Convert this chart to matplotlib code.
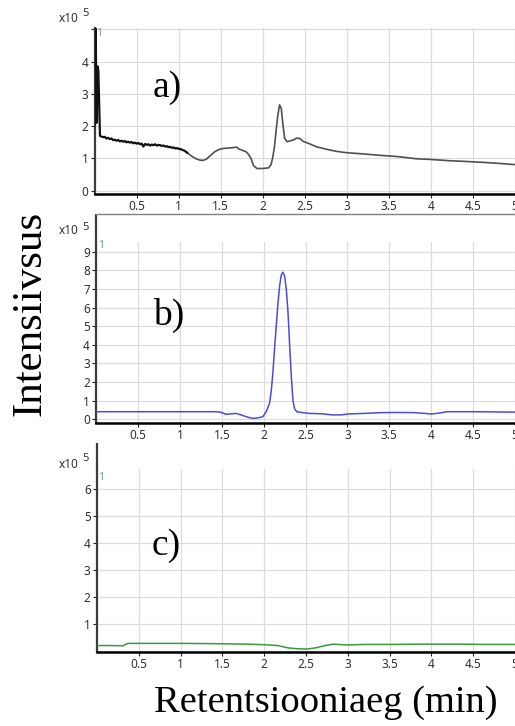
import matplotlib
matplotlib.use("Agg")
import matplotlib.pyplot as plt
import numpy as np

W, H = 515, 726

# ---------------- data (intensity in units of 1e5) ----------------
# panel a: early noisy section
a_early_x = [0.0, 0.012, 0.022, 0.030, 0.037, 0.045, 0.055, 0.064, 0.08, 0.10, 0.12, 0.14, 0.16,
             0.18, 0.20, 0.22, 0.24, 0.26, 0.28, 0.30, 0.32, 0.34, 0.36, 0.38, 0.40, 0.42,
             0.44, 0.46, 0.48, 0.50, 0.52, 0.54, 0.56, 0.58, 0.60, 0.62, 0.64, 0.66, 0.68,
             0.70, 0.72, 0.74, 0.76, 0.78, 0.80, 0.82, 0.84, 0.86, 0.88, 0.90, 0.92, 0.94,
             0.96, 0.98, 1.00, 1.02, 1.04, 1.06, 1.08, 1.10]
a_early_y = [2.0, 5.6, 2.1, 3.2, 3.85, 3.7, 2.6, 1.70, 1.68, 1.66, 1.67, 1.62, 1.64,
             1.60, 1.62, 1.57, 1.58, 1.55, 1.57, 1.53, 1.55, 1.52, 1.54, 1.50, 1.52, 1.49,
             1.51, 1.47, 1.49, 1.46, 1.48, 1.44, 1.46, 1.37, 1.45, 1.42, 1.44, 1.40, 1.43,
             1.41, 1.44, 1.40, 1.42, 1.41, 1.39, 1.40, 1.37, 1.38, 1.35, 1.36, 1.33, 1.34,
             1.31, 1.32, 1.30, 1.29, 1.27, 1.25, 1.22, 1.18]
# panel a: rest of the trace
a_x = [1.10, 1.15, 1.20, 1.25, 1.29, 1.33, 1.38, 1.43, 1.48, 1.53, 1.58, 1.62, 1.66, 1.69,
       1.72, 1.76, 1.80, 1.83, 1.86, 1.89, 1.93, 2.00, 2.07, 2.10, 2.12, 2.14, 2.16, 2.18,
       2.20, 2.22, 2.24, 2.26, 2.29, 2.33, 2.37, 2.40, 2.44, 2.48, 2.56, 2.64, 2.72, 2.80,
       2.88, 2.96, 3.04, 3.20, 3.43, 3.60, 3.83, 4.00, 4.22, 4.40, 4.62, 4.80, 5.00]
a_y = [1.18, 1.08, 1.00, 0.95, 0.94, 0.98, 1.10, 1.21, 1.28, 1.31, 1.32, 1.33, 1.34, 1.35,
       1.29, 1.25, 1.21, 1.13, 1.00, 0.78, 0.69, 0.69, 0.71, 0.82, 1.05, 1.38, 1.90, 2.35,
       2.66, 2.55, 2.05, 1.62, 1.52, 1.55, 1.58, 1.63, 1.62, 1.53, 1.45, 1.36, 1.31, 1.26,
       1.22, 1.19, 1.17, 1.14, 1.09, 1.06, 0.99, 0.97, 0.93, 0.91, 0.88, 0.85, 0.81]

# panel b
b_x = [0.0, 0.5, 1.0, 1.43, 1.49, 1.55, 1.62, 1.67, 1.73, 1.78, 1.83, 1.87, 1.93, 1.99,
       2.03, 2.07, 2.09, 2.11, 2.13, 2.15, 2.17, 2.19, 2.21, 2.23, 2.25, 2.27, 2.29,
       2.31, 2.33, 2.35, 2.37, 2.40, 2.54, 2.70, 2.81, 2.93, 3.01, 3.20,
       3.41, 3.60, 3.80, 3.92, 4.00, 4.07, 4.19, 4.50, 4.94, 5.0]
b_y = [0.41, 0.41, 0.41, 0.41, 0.38, 0.27, 0.30, 0.32, 0.24, 0.16, 0.09, 0.05, 0.08, 0.14,
       0.41, 0.86, 1.50, 2.50, 3.80, 5.00, 6.20, 7.15, 7.75, 7.90, 7.70, 7.00, 5.80,
       4.00, 2.30, 1.00, 0.55, 0.40, 0.32, 0.30, 0.24, 0.24, 0.29, 0.32,
       0.36, 0.37, 0.36, 0.32, 0.29, 0.32, 0.41, 0.41, 0.39, 0.39]

# panel c
c_x = [0.0, 0.15, 0.31, 0.37, 0.62, 1.01, 1.40, 1.80, 2.00, 2.16, 2.23, 2.29, 2.40, 2.51,
       2.61, 2.73, 2.83, 3.00, 3.20, 3.50, 3.80, 4.10, 4.38, 4.65, 4.93, 5.0]
c_y = [0.20, 0.20, 0.19, 0.28, 0.28, 0.28, 0.27, 0.25, 0.23, 0.20, 0.15, 0.11, 0.08, 0.07,
       0.11, 0.20, 0.25, 0.22, 0.24, 0.24, 0.25, 0.25, 0.25, 0.24, 0.24, 0.24]

a_yticks = [0, 1, 2, 3, 4, 5]
a_yticklabels = ["0", "1", "2", "3", "4", ""]
b_yticks = [0, 1, 2, 3, 4, 5, 6, 7, 8, 9]
b_yticklabels = [str(v) for v in b_yticks]
c_yticks = [1, 2, 3, 4, 5, 6]
c_yticklabels = [str(v) for v in c_yticks]
xticks = [0.5, 1, 1.5, 2, 2.5, 3, 3.5, 4, 4.5, 5]
xticklabels = ["0.5", "1", "1.5", "2", "2.5", "3", "3.5", "4", "4.5", "5"]

panel_labels = ["a)", "b)", "c)"]
ylabel_text = "Intensiivsus"
xlabel_text = "Retentsiooniaeg (min)"

# ---------------- figure ----------------
fig = plt.figure(figsize=(W / 100, H / 100), dpi=100)
fig.patch.set_facecolor("white")

def fx(px):
    return px / W

def fy(py):
    return 1 - py / H

tick_font = "Noto Sans"
tick_color = "#303030"
grid_color = "#dcdcdc"

# (left px, bottom px, top px, ylim, xmax)
specs = [
    (94.6, 194.0, 28.0, (-0.1, 5.04), 4.993),
    (96.1, 422.7, 241.7, (-0.18, 9.54), 4.969),
    (97.0, 652.0, 469.3, (-0.04, 6.73), 4.958),
]

axes = []
for (lp, bp, tp, ylim, xmax) in specs:
    ax = fig.add_axes([fx(lp), fy(bp), 1 - fx(lp), (bp - tp) / H])
    ax.set_xlim(0, xmax)
    ax.set_ylim(*ylim)
    for s in ["top", "right"]:
        ax.spines[s].set_visible(False)
    ax.spines["left"].set_color("#3c3c3c")
    ax.spines["left"].set_linewidth(1.6)
    ax.spines["bottom"].set_color("#000000")
    ax.spines["bottom"].set_linewidth(1.8)
    ax.set_xticks(xticks)
    ax.set_xticklabels(xticklabels)
    ax.tick_params(axis="both", direction="out", length=3, width=0.8, color="#202020",
                   labelsize=8.5, labelcolor=tick_color, pad=1.5)
    for lab in ax.get_xticklabels() + ax.get_yticklabels():
        lab.set_fontfamily(tick_font)
    ax.grid(True, color=grid_color, linewidth=0.9)
    ax.set_axisbelow(True)
    axes.append(ax)

ax_a, ax_b, ax_c = axes

ax_a.set_yticks(a_yticks)
ax_a.set_yticklabels(a_yticklabels, fontfamily=tick_font)
ax_b.set_yticks(b_yticks)
ax_b.set_yticklabels(b_yticklabels, fontfamily=tick_font)
ax_c.set_yticks(c_yticks)
ax_c.set_yticklabels(c_yticklabels, fontfamily=tick_font)
ax_c.axhline(0, color=grid_color, linewidth=0.9, zorder=0)

# traces
ax_a.plot(a_x, a_y, color="#505050", linewidth=1.2, zorder=3)
ax_a.plot(a_early_x, a_early_y, color="#111111", linewidth=1.6, zorder=4)
ax_b.plot(b_x, b_y, color="#4b4bdc", linewidth=1.1, zorder=3)
ax_c.plot(c_x, c_y, color="#3a9a3a", linewidth=1.1, zorder=3)

# extended left spines / top border
ax_b.plot([0, 0], [1, 1 + 27.7 / 181.0], transform=ax_b.transAxes, color="#3c3c3c",
          linewidth=1.6, clip_on=False, solid_capstyle="butt")
ax_b.plot([0, 1], [1 + 27.7 / 181.0] * 2, transform=ax_b.transAxes, color="#808080",
          linewidth=1.0, clip_on=False)
ax_c.plot([0, 0], [1, 1 + 26.3 / 182.7], transform=ax_c.transAxes, color="#3c3c3c",
          linewidth=1.6, clip_on=False, solid_capstyle="butt")

# "x10 5" labels and "1" markers
for (x10y, supy, oney, onex) in [(18, 14, 34, 99), (231, 227.5, 246, 101.5), (465, 458, 477, 101.5)]:
    fig.text(fx(79), fy(x10y), "x10", ha="right", va="center", fontsize=8.5,
             fontfamily=tick_font, color=tick_color)
    fig.text(fx(82.5), fy(supy), "5", ha="left", va="center", fontsize=8,
             fontfamily=tick_font, color=tick_color)
    fig.text(fx(onex), fy(oney), "1", ha="center", va="center", fontsize=7.5,
             fontfamily=tick_font, color="#8090a8")

# panel letters
for lab, (px, py) in zip(panel_labels, [(153, 96.5), (153, 325), (152, 555)]):
    fig.text(fx(px), fy(py), lab, ha="left", va="baseline", fontsize=27,
             fontfamily="Liberation Serif", color="black")

# big axis labels
fig.text(fx(30), fy(313), ylabel_text, rotation=90, ha="center", va="center",
         fontsize=31, fontfamily="Liberation Serif", color="black")
fig.text(fx(326), fy(703), xlabel_text, ha="center", va="center",
         fontsize=27.7, fontfamily="Liberation Serif", color="black")

fig.savefig("out.png", dpi=100, facecolor="white")
